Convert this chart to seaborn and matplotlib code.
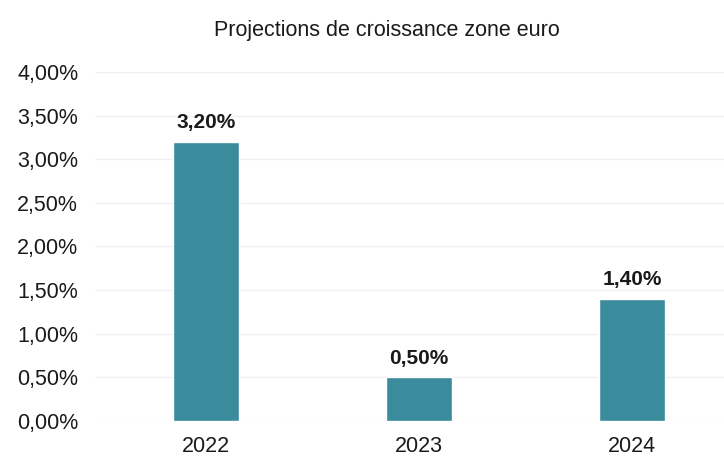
import matplotlib
matplotlib.use("Agg")
import matplotlib.pyplot as plt
import seaborn as sns
import pandas as pd

# Données
annees = ["2022", "2023", "2024"]
croissance = [3.20, 0.50, 1.40]
graduations = [0, 0.5, 1.0, 1.5, 2.0, 2.5, 3.0, 3.5, 4.0]

df = pd.DataFrame({"annee": annees, "croissance": croissance})

sns.set_style("white")
plt.rcParams["font.family"] = ["Liberation Sans", "DejaVu Sans"]

fig = plt.figure(figsize=(7.24, 4.62), dpi=100)
ax = fig.add_axes([0.131, 0.089, 0.869, 0.755])

sns.barplot(data=df, x="annee", y="croissance", color="#3a8b9c",
            width=0.31, saturation=1, ax=ax)

def fmt(v):
    return f"{v:.2f}".replace(".", ",") + "%"

for i, v in enumerate(croissance):
    ax.text(i, v + 0.11, fmt(v), ha="center", va="bottom",
            fontsize=15, fontweight="bold", color="#1a1a1a")

ax.set_ylim(0, 4)
ax.set_xlim(-0.52, 2.43)
ax.set_yticks(graduations)
ax.set_yticklabels([fmt(g) for g in graduations], fontsize=15.5, color="#1a1a1a")
ax.tick_params(axis="x", labelsize=15.5, colors="#1a1a1a", pad=11)
ax.tick_params(axis="y", pad=12, length=0)
ax.tick_params(axis="x", length=0)
ax.yaxis.grid(True, color="#f0f0f0", linewidth=1)
ax.set_axisbelow(True)
for s in ax.spines.values():
    s.set_visible(False)
ax.set_xlabel("")
ax.set_ylabel("")
fig.text(0.535, 0.935, "Projections de croissance zone euro", ha="center",
         va="center", fontsize=15.5, color="#1a1a1a")

fig.savefig("out.png", dpi=100)
